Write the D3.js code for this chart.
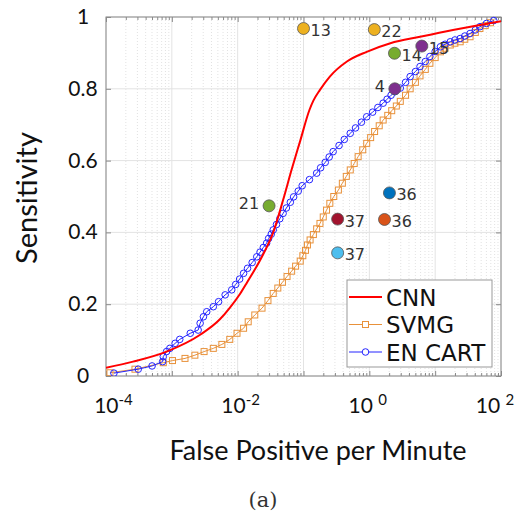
<!DOCTYPE html>
<html>
<head>
<meta charset="utf-8">
<script src="https://cdn.jsdelivr.net/npm/d3@7"></script>
<style>
  body { margin: 0; background: #fff; }
  svg { display: block; }
</style>
</head>
<body>
<svg id="chart"></svg>
<script>
// ROC-like curves, x stored as log10(false positives per minute)
const cnnLogFp = [-4.00, -3.59, -3.08, -2.57, -2.27, -2.12, -1.96, -1.86, -1.61, -1.46, -1.31, -1.18, -1.05, -0.91, -0.85, -0.75, -0.60, -0.34, -0.04, 0.32, 0.77, 1.27, 1.68, 2.00];
const cnnSens = [0.023, 0.040, 0.068, 0.115, 0.158, 0.190, 0.230, 0.260, 0.340, 0.400, 0.490, 0.575, 0.655, 0.741, 0.767, 0.797, 0.834, 0.876, 0.903, 0.927, 0.945, 0.964, 0.978, 0.988];

const svmgLogFp = [-3.94, -3.56, -3.13, -2.99, -2.80, -2.65, -2.51, -2.37, -2.24, -2.12, -2.01, -1.91,
  -1.84, -1.74, -1.63, -1.54, -1.46, -1.39, -1.32, -1.25, -1.18, -1.12, -1.05, -1.01, -0.97, -0.94, -0.90,
  -0.85, -0.80, -0.75, -0.70, -0.65, -0.60, -0.54, -0.47, -0.41, -0.35, -0.29, -0.23, -0.17, -0.10, -0.04,
  0.02, 0.08, 0.15, 0.21, 0.28, 0.34, 0.41, 0.47, 0.55, 0.62, 0.70, 0.77, 0.85, 0.92, 1.00, 1.08, 1.15,
  1.23, 1.30, 1.38, 1.45, 1.53, 1.61, 1.68, 1.76, 1.84];
const svmgSens = [0.009, 0.019, 0.037, 0.043, 0.049, 0.058, 0.068, 0.077, 0.088, 0.102, 0.119, 0.133,
  0.151, 0.170, 0.189, 0.210, 0.230, 0.245, 0.261, 0.277, 0.292, 0.306, 0.320, 0.335, 0.350, 0.365, 0.379,
  0.394, 0.410, 0.425, 0.443, 0.462, 0.481, 0.500, 0.518, 0.537, 0.556, 0.574, 0.592, 0.611, 0.630, 0.648,
  0.664, 0.681, 0.697, 0.713, 0.726, 0.739, 0.752, 0.765, 0.782, 0.800, 0.818, 0.836, 0.854, 0.871, 0.887, 0.903, 0.913,
  0.922, 0.927, 0.931, 0.938, 0.945, 0.957, 0.968, 0.976, 0.984];

const enLogFp = [-3.88, -3.51, -3.30, -3.14, -3.13, -3.08, -3.03, -2.95, -2.88, -2.72, -2.60, -2.57, -2.52, -2.47, -2.37, -2.29, -2.19,
  -2.09, -2.03, -1.97, -1.91, -1.85, -1.78, -1.71, -1.66, -1.61, -1.56, -1.53, -1.49, -1.46, -1.41, -1.36, -1.31, -1.26, -1.20,
  -1.15, -1.08, -1.02, -0.91, -0.80, -0.74, -0.67, -0.61, -0.55, -0.46, -0.38, -0.29, -0.21, -0.12, -0.04, 0.05, 0.13, 0.21,
  0.27, 0.33, 0.39, 0.47, 0.55, 0.62, 0.70, 0.77, 0.85, 0.92, 1.00, 1.08, 1.15, 1.23, 1.30, 1.38, 1.45, 1.53, 1.61, 1.68, 1.78, 1.89];
const enSens = [0.008, 0.019, 0.028, 0.040, 0.054, 0.068, 0.077, 0.091, 0.102, 0.119, 0.128, 0.147, 0.165, 0.179, 0.193, 0.207, 0.226,
  0.240, 0.255, 0.270, 0.286, 0.300, 0.316, 0.332, 0.345, 0.358, 0.370, 0.383, 0.395, 0.407, 0.422, 0.438, 0.453, 0.468, 0.484,
  0.499, 0.515, 0.530, 0.547, 0.565, 0.580, 0.595, 0.610, 0.625, 0.642, 0.659, 0.676, 0.691, 0.707, 0.722, 0.735, 0.748, 0.760,
  0.771, 0.782, 0.792, 0.802, 0.818, 0.834, 0.848, 0.862, 0.876, 0.890, 0.904, 0.917, 0.924, 0.931, 0.936, 0.940, 0.947, 0.954, 0.964, 0.973, 0.982, 0.990];

// other detectors, single operating points
const pointLabels = ["13", "22", "14", "15", "4", "36", "36", "37", "37", "21"];
const pointFp = [0.10, 1.19, 2.41, 6.27, 2.44, 2.02, 1.70, 0.33, 0.33, 0.030];
const pointSens = [0.968, 0.965, 0.899, 0.919, 0.800, 0.510, 0.436, 0.437, 0.343, 0.474];

const seriesNames = ["CNN", "SVMG", "EN CART"];
const xTickExp = [-4, -2, 0, 2];
const yTicks = [0, 0.2, 0.4, 0.6, 0.8, 1];

// styles
const pointColors = ["#EDB120", "#EDB120", "#77AC30", "#7E2F8E", "#7E2F8E", "#0072BD", "#D95319", "#A2142F", "#4DBEEE", "#77AC30"];
const leftLabelled = [4, 9];
const cRed = "#ff0000", cOrange = "#e8913a", cBlue = "#2424ff";

const width = 516, height = 516;
const m = { left: 106, right: 501, top: 17, bottom: 376 };

const svg = d3.select("#chart").attr("width", width).attr("height", height);

const x = d3.scaleLog().domain([1e-4, 1e2]).range([m.left, m.right]);
const y = d3.scaleLinear().domain([0, 1]).range([m.bottom, m.top]);

svg.append("defs").append("clipPath").attr("id", "clip")
  .append("rect").attr("x", m.left).attr("y", m.top - 4)
  .attr("width", m.right - m.left).attr("height", m.bottom - m.top + 4);

// grid
const allTicks = x.ticks();
const majorTicks = allTicks.filter(t => Math.abs(Math.log10(t) - Math.round(Math.log10(t))) < 1e-9);
const minorTicks = allTicks.filter(t => !majorTicks.includes(t));

const grid = svg.append("g");
grid.selectAll(".minor").data(minorTicks).enter().append("line")
  .attr("x1", d => x(d)).attr("x2", d => x(d))
  .attr("y1", m.top).attr("y2", m.bottom)
  .attr("stroke", "#d6d6d6").attr("stroke-width", 0.7).attr("stroke-dasharray", "1,2");
grid.selectAll(".major").data(majorTicks).enter().append("line")
  .attr("x1", d => x(d)).attr("x2", d => x(d))
  .attr("y1", m.top).attr("y2", m.bottom)
  .attr("stroke", "#e3e3e3").attr("stroke-width", 1);
grid.selectAll(".ygrid").data(yTicks).enter().append("line")
  .attr("x1", m.left).attr("x2", m.right)
  .attr("y1", d => y(d)).attr("y2", d => y(d))
  .attr("stroke", "#e3e3e3").attr("stroke-width", 1);

// axes, ticks pointing inward like matlab
function styleAxis(g) {
  g.select(".domain").remove();
  g.selectAll("line").attr("stroke", "#8a8a8a");
  g.selectAll("text").remove();
}
svg.append("g").attr("transform", `translate(0,${m.bottom})`)
  .call(d3.axisBottom(x).tickValues(minorTicks).tickSize(-3)).call(styleAxis);
svg.append("g").attr("transform", `translate(0,${m.bottom})`)
  .call(d3.axisBottom(x).tickValues(majorTicks).tickSize(-5)).call(styleAxis);
svg.append("g").attr("transform", `translate(0,${m.top})`)
  .call(d3.axisTop(x).tickValues(minorTicks).tickSize(-3)).call(styleAxis);
svg.append("g").attr("transform", `translate(0,${m.top})`)
  .call(d3.axisTop(x).tickValues(majorTicks).tickSize(-5)).call(styleAxis);
svg.append("g").attr("transform", `translate(${m.left},0)`)
  .call(d3.axisLeft(y).tickValues(yTicks).tickSize(-5)).call(styleAxis);
svg.append("g").attr("transform", `translate(${m.right},0)`)
  .call(d3.axisRight(y).tickValues(yTicks).tickSize(-5)).call(styleAxis);

svg.append("rect")
  .attr("x", m.left).attr("y", m.top)
  .attr("width", m.right - m.left).attr("height", m.bottom - m.top)
  .attr("fill", "none").attr("stroke", "#8a8a8a").attr("stroke-width", 1);

// tick labels
const xl = svg.append("g").attr("font-family", "Lato, sans-serif").attr("fill", "#111");
xTickExp.forEach(e => {
  const t = xl.append("text")
    .attr("x", x(Math.pow(10, e)) + 3 - 2.25 * (e + 2))
    .attr("y", 413)
    .attr("text-anchor", "middle")
    .attr("font-size", 21);
  t.append("tspan").text(e < 0 ? "10" : "10 ");
  t.append("tspan").attr("dy", -8).attr("font-size", 15).text(e < 0 ? "-" + (-e) : String(e));
});

svg.append("g").attr("font-family", "Lato, sans-serif").attr("fill", "#111")
  .selectAll("text").data(yTicks).enter().append("text")
  .attr("x", 83).attr("y", d => y(d) + 7)
  .attr("text-anchor", "middle").attr("font-size", 21)
  .text(d => d);

// axis titles
svg.append("text")
  .attr("x", 318).attr("y", 460)
  .attr("text-anchor", "middle")
  .attr("font-family", "Lato, sans-serif").attr("font-size", 27).attr("fill", "#111")
  .text("False Positive per Minute");

svg.append("text")
  .attr("transform", "translate(37,198) rotate(-90)")
  .attr("text-anchor", "middle")
  .attr("font-family", "Lato, sans-serif").attr("font-size", 29).attr("fill", "#111")
  .text("Sensitivity");

svg.append("text")
  .attr("x", 263).attr("y", 507)
  .attr("text-anchor", "middle")
  .attr("font-family", "'DejaVu Serif', serif").attr("font-size", 21).attr("fill", "#333")
  .text("(a)");

// curves
const plot = svg.append("g").attr("clip-path", "url(#clip)");
const toPts = (lx, s) => lx.map((v, i) => [Math.pow(10, v), s[i]]);
const cnnPts = toPts(cnnLogFp, cnnSens);
const svmgPts = toPts(svmgLogFp, svmgSens);
const enPts = toPts(enLogFp, enSens);

const line = d3.line().x(d => x(d[0])).y(d => y(d[1]));

plot.append("path").datum(svmgPts)
  .attr("d", line).attr("fill", "none").attr("stroke", cOrange).attr("stroke-width", 1);
plot.selectAll(".sq").data(svmgPts).enter().append("rect")
  .attr("x", d => x(d[0]) - 3).attr("y", d => y(d[1]) - 3)
  .attr("width", 6).attr("height", 6)
  .attr("fill", "none").attr("stroke", cOrange).attr("stroke-width", 1);

plot.append("path").datum(enPts)
  .attr("d", line).attr("fill", "none").attr("stroke", cBlue).attr("stroke-width", 1);
plot.selectAll(".ci").data(enPts).enter().append("circle")
  .attr("cx", d => x(d[0])).attr("cy", d => y(d[1])).attr("r", 3.3)
  .attr("fill", "none").attr("stroke", cBlue).attr("stroke-width", 1);

plot.append("path").datum(cnnPts)
  .attr("d", line.curve(d3.curveMonotoneX)).attr("fill", "none")
  .attr("stroke", cRed).attr("stroke-width", 2);

// single points
const pts = svg.append("g");
pointFp.forEach((fp, i) => {
  const cx = x(fp), cy = y(pointSens[i]);
  pts.append("circle").attr("cx", cx).attr("cy", cy).attr("r", 6)
    .attr("fill", pointColors[i]).attr("stroke", "#555").attr("stroke-width", 0.8);
  const left = leftLabelled.includes(i);
  pts.append("text")
    .attr("x", left ? cx - 10 : cx + 7)
    .attr("y", cy + (left ? 3.5 : 7.5))
    .attr("text-anchor", left ? "end" : "start")
    .attr("font-family", "'DejaVu Sans', sans-serif").attr("font-size", 16).attr("fill", "#333")
    .text(pointLabels[i]);
});

// legend
const lg = svg.append("g");
lg.append("rect").attr("x", 347).attr("y", 280).attr("width", 145).attr("height", 87)
  .attr("fill", "#fff").attr("stroke", "#999").attr("stroke-width", 1);
const rowY = [297, 324.5, 352];
const rowColor = [cRed, cOrange, cBlue];
seriesNames.forEach((name, i) => {
  lg.append("line").attr("x1", 349).attr("x2", 382).attr("y1", rowY[i]).attr("y2", rowY[i])
    .attr("stroke", rowColor[i]).attr("stroke-width", i === 0 ? 2 : 1);
  if (i === 1) {
    lg.append("rect").attr("x", 362.5).attr("y", rowY[i] - 3).attr("width", 6).attr("height", 6)
      .attr("fill", "#fff").attr("stroke", cOrange);
  } else if (i === 2) {
    lg.append("circle").attr("cx", 365.5).attr("cy", rowY[i]).attr("r", 3.3)
      .attr("fill", "#fff").attr("stroke", cBlue);
  }
  lg.append("text").attr("x", 386).attr("y", rowY[i] + 8.5)
    .attr("font-family", "'DejaVu Sans', sans-serif").attr("font-size", 23).attr("fill", "#111")
    .text(name);
});
</script>
</body>
</html>
